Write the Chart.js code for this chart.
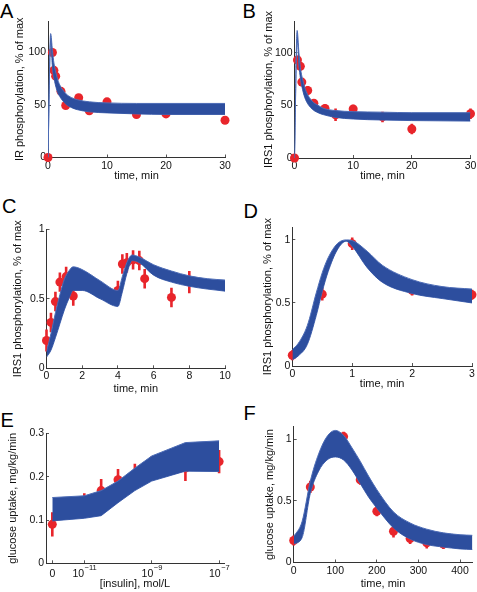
<!DOCTYPE html>
<html>
<head>
<meta charset="utf-8">
<script src="https://cdn.jsdelivr.net/npm/chart.js@4.4.1/dist/chart.umd.min.js"></script>
<style>
  html, body { margin: 0; padding: 0; background: #fff; }
  body { width: 477px; height: 592px; position: relative; overflow: hidden; }
  canvas { position: absolute; }
  .tag { position: absolute; font: 20px/1 "Liberation Sans", Arial, sans-serif; color: #000; }
</style>
</head>
<body>
<div class="tag" style="left:0px;top:1px">A</div>
<div class="tag" style="left:242.5px;top:1px">B</div>
<div class="tag" style="left:2px;top:196px">C</div>
<div class="tag" style="left:243.5px;top:201px">D</div>
<div class="tag" style="left:0.5px;top:410px">E</div>
<div class="tag" style="left:243.5px;top:403px">F</div>

<canvas id="chartA"></canvas>
<canvas id="chartB"></canvas>
<canvas id="chartC"></canvas>
<canvas id="chartD"></canvas>
<canvas id="chartE"></canvas>
<canvas id="chartF"></canvas>

<script>
// ---- A: IR phosphorylation, % of max ----
const timeA = [0, 0.75, 1, 1.3, 2.2, 3, 5.2, 7, 10, 15, 20, 30];
const irA = [0, 100, 83, 77.5, 63, 49.5, 57, 44.5, 53, 41, 41.5, 35.5];
const errA = [1, 3, 3, 3, 3, 3, 3, 2.5, 3, 2.5, 2.5, 3];
const simTimeA = [0, 0.45, 0.75, 1, 1.5, 2, 3, 4, 5, 7, 10, 15, 20, 30];
const simHighA = [0, 118, 102, 90, 77, 69, 61, 57, 55, 53, 52, 51.5, 51.5, 51.5];
const simLowA = [0, 110, 86, 76, 64, 58, 51, 47.5, 45.5, 43.5, 42.5, 41.5, 41, 41];

// ---- B: IRS1 phosphorylation, % of max ----
const timeB = [0, 0.5, 1, 1.25, 2.25, 3.3, 5.2, 7, 10, 15, 20, 30];
const irsB = [0, 93, 87, 72, 64, 52, 47, 41, 46.5, 39, 27.5, 42];
const errB = [1, 4, 4, 4, 4, 4, 4, 6, 4, 5, 5, 5];
const simTimeB = [0, 0.45, 0.75, 1, 1.5, 2, 3, 4, 5, 7, 10, 15, 20, 30];
const simHighB = [0, 121, 100, 86, 72, 63, 54, 50, 47, 45, 44, 43.5, 43, 43];
const simLowB = [0, 113, 88, 76, 62, 54, 46.5, 43, 41, 38.5, 37, 36, 35.5, 35];

// ---- C: IRS1, double stimulation ----
const timeC = [0, 0.25, 0.5, 0.75, 1.1, 1.5, 4, 4.25, 4.5, 4.85, 5.2, 5.5, 7, 8];
const irsC = [0.2, 0.33, 0.48, 0.62, 0.66, 0.52, 0.56, 0.75, 0.76, 0.78, 0.775, 0.645, 0.51, 0.62];
const errC = [0.08, 0.07, 0.07, 0.07, 0.07, 0.07, 0.07, 0.07, 0.07, 0.07, 0.07, 0.07, 0.07, 0.08];
const simTimeC = [0, 0.25, 0.5, 0.75, 1, 1.25, 1.5, 2, 3, 4, 4.25, 4.5, 4.8, 5.2, 6, 7, 8, 9, 10];
const simHighC = [0.12, 0.25, 0.40, 0.53, 0.64, 0.70, 0.73, 0.71, 0.63, 0.56, 0.66, 0.76, 0.815, 0.80, 0.745, 0.70, 0.665, 0.645, 0.635];
const simLowC = [0.08, 0.13, 0.22, 0.32, 0.42, 0.50, 0.56, 0.56, 0.50, 0.445, 0.55, 0.68, 0.775, 0.76, 0.67, 0.62, 0.59, 0.57, 0.555];

// ---- D: IRS1, short time course ----
const timeD = [0, 0.5, 1, 1.5, 2, 3];
const irsD = [0.085, 0.57, 0.97, 0.72, 0.6, 0.565];
const errD = [0.04, 0.05, 0.05, 0.05, 0.04, 0.04];
const simTimeD = [0, 0.1, 0.25, 0.4, 0.5, 0.6, 0.75, 0.9, 1.0, 1.25, 1.5, 2, 2.5, 3];
const simHighD = [0.13, 0.18, 0.32, 0.58, 0.74, 0.86, 0.97, 1.0, 0.995, 0.91, 0.80, 0.685, 0.63, 0.61];
const simLowD = [0.05, 0.08, 0.17, 0.4, 0.59, 0.75, 0.92, 0.99, 0.95, 0.78, 0.665, 0.575, 0.535, 0.50];

// ---- E: glucose uptake vs insulin (log10 mol/L, "0" drawn at -11.95) ----
const doseE = [-11.95, -11, -10.5, -10, -9.5, -9, -8, -7];
const uptakeE = [0.09, 0.14, 0.168, 0.193, 0.205, 0.225, 0.22, 0.235];
const errE = [0.028, 0.022, 0.027, 0.025, 0.025, 0.022, 0.03, 0.027];
const simHighE = [0.152, 0.156, 0.168, 0.19, 0.22, 0.248, 0.279, 0.283];
const simLowE = [0.098, 0.104, 0.11, 0.14, 0.168, 0.19, 0.213, 0.212];
const tickE = [-11.95, -11, -9, -7];
const tickBaseE = ["0", "10", "10", "10"];
const tickExpE = ["", "\u221211", "\u22129", "\u22127"];

// ---- F: glucose uptake time course ----
const timeF = [0, 40, 120, 160, 200, 240, 280, 320, 360, 400];
const uptakeF = [0.178, 0.612, 1.02, 0.67, 0.415, 0.253, 0.194, 0.159, 0.15, 0.154];
const errF = [0.04, 0.05, 0.04, 0.04, 0.04, 0.05, 0.045, 0.045, 0.04, 0.045];
const simTimeF = [0, 20, 40, 60, 80, 100, 120, 140, 160, 180, 200, 240, 280, 320, 360, 400, 430];
const simHighF = [0.21, 0.33, 0.66, 0.88, 1.02, 1.07, 1.03, 0.93, 0.82, 0.70, 0.59, 0.41, 0.32, 0.27, 0.24, 0.225, 0.22];
const simLowF = [0.15, 0.2, 0.56, 0.74, 0.83, 0.855, 0.83, 0.75, 0.64, 0.53, 0.44, 0.28, 0.19, 0.145, 0.125, 0.11, 0.105];

const BLUE = "#2d4e9e";
const BLUE_EDGE = "#4d6cb6";
const RED = "#e8252b";
const FONT = '"Liberation Sans", Arial, Helvetica, sans-serif';

Chart.defaults.font.family = FONT;
Chart.defaults.color = "#111";

function pts(xs, ys) {
  return xs.map((x, i) => ({ x: x, y: ys[i] }));
}

function errBars(xs, ys, es) {
  const out = [];
  xs.forEach((x, i) => {
    out.push({ x: x, y: ys[i] - es[i] });
    out.push({ x: x, y: ys[i] + es[i] });
    out.push({ x: x, y: null });
  });
  return out;
}

// box: canvas placement; area: plot area in page pixels
function panel(id, box, area, d) {
  const cv = document.getElementById(id);
  cv.width = box.w; cv.height = box.h;
  cv.style.left = box.l + "px"; cv.style.top = box.t + "px";

  const lineMode = d.curved ? { cubicInterpolationMode: "monotone" } : { tension: 0 };
  const datasets = [
    Object.assign({
      data: pts(d.simX, d.simHigh), borderColor: BLUE_EDGE, borderWidth: 1,
      backgroundColor: BLUE, fill: "+1", pointRadius: 0, order: 1
    }, lineMode),
    Object.assign({
      data: pts(d.simX, d.simLow), borderColor: BLUE_EDGE, borderWidth: 1,
      fill: false, pointRadius: 0, order: 1
    }, lineMode),
    {
      data: errBars(d.x, d.y, d.err), borderColor: RED, borderWidth: 2.6,
      pointRadius: 0, spanGaps: false, fill: false, tension: 0, clip: false, order: 3
    },
    {
      data: pts(d.x, d.y), showLine: false, pointRadius: 4.5, pointBorderWidth: 0,
      pointBackgroundColor: RED, pointBorderColor: RED, clip: false, order: 2
    }
  ];

  const yW = area.l - box.l;
  const xH = box.t + box.h - area.b;
  const tickFont = { size: 10.5 };
  const titleFont = { size: 11 };

  return new Chart(cv, {
    type: "line",
    data: { datasets: datasets },
    options: {
      responsive: false,
      animation: false,
      devicePixelRatio: 1,
      layout: { padding: { left: 0, top: area.t - box.t, right: box.l + box.w - area.r, bottom: 0 } },
      plugins: { legend: { display: false }, tooltip: { enabled: false } },
      scales: {
        x: {
          type: "linear", position: "bottom", min: d.xMin, max: d.xMax,
          afterBuildTicks: s => { s.ticks = d.xTicks.map(v => ({ value: v })); },
          afterFit: s => { s.height = xH; s.paddingLeft = 0; s.paddingRight = 0; },
          ticks: {
            display: !d.customX, autoSkip: false, maxRotation: 0, padding: 5,
            font: tickFont, callback: v => String(v)
          },
          grid: { drawOnChartArea: false, tickLength: -3, color: "#555" },
          border: { color: "#333", width: 1 },
          title: {
            display: true, text: d.xTitle, font: titleFont,
            padding: { top: 0, bottom: box.t + box.h - area.xTitleY - 6.6 }
          }
        },
        y: {
          type: "linear", position: "left", min: d.yMin, max: d.yMax,
          afterBuildTicks: s => { s.ticks = d.yTicks.map(v => ({ value: v })); },
          afterFit: s => { s.width = yW; s.paddingTop = 0; s.paddingBottom = 0; },
          ticks: { autoSkip: false, padding: 5, font: tickFont, callback: v => String(v) },
          grid: { drawOnChartArea: false, tickLength: -3, color: "#555" },
          border: { color: "#333", width: 1 },
          title: {
            display: true, text: d.yTitle, font: titleFont,
            padding: { top: area.yTitleX - box.l - 6.6, bottom: 0 }
          }
        }
      }
    },
    plugins: d.customX ? [{
      id: "logLabels",
      afterDraw(chart) {
        const xs = chart.scales.x;
        const ctx = chart.ctx;
        ctx.save();
        ctx.fillStyle = "#111";
        ctx.textBaseline = "middle";
        ctx.textAlign = "left";
        tickE.forEach((v, i) => {
          const px = xs.getPixelForValue(v);
          ctx.font = "10.5px " + FONT;
          const wb = ctx.measureText(tickBaseE[i]).width;
          ctx.font = "7.5px " + FONT;
          const we = tickExpE[i] ? ctx.measureText(tickExpE[i]).width : 0;
          const x0 = px - (wb + we) / 2;
          ctx.font = "10.5px " + FONT;
          ctx.fillText(tickBaseE[i], x0, xs.top + 11);
          if (tickExpE[i]) {
            ctx.font = "7.5px " + FONT;
            ctx.fillText(tickExpE[i], x0 + wb + 0.5, xs.top + 5);
          }
        });
        ctx.restore();
      }
    }] : []
  });
}

const timeTitle = "time, min";

panel("chartA", { l: 0, t: 0, w: 238, h: 192 },
  { l: 48, r: 225, t: 21, b: 157.5, yTitleX: 20, xTitleY: 176 },
  { x: timeA, y: irA, err: errA, simX: simTimeA, simHigh: simHighA, simLow: simLowA, curved: true,
    xMin: 0, xMax: 30, xTicks: [0, 10, 20, 30], yMin: 0, yMax: 130, yTicks: [0, 50, 100],
    xTitle: timeTitle, yTitle: "IR phosphorylation, % of max" });

panel("chartB", { l: 237, t: 0, w: 240, h: 192 },
  { l: 294.5, r: 470.5, t: 21, b: 158, yTitleX: 268.7, xTitleY: 176 },
  { x: timeB, y: irsB, err: errB, simX: simTimeB, simHigh: simHighB, simLow: simLowB, curved: true,
    xMin: 0, xMax: 30, xTicks: [0, 10, 20, 30], yMin: 0, yMax: 130, yTicks: [0, 50, 100],
    xTitle: timeTitle, yTitle: "IRS1 phosphorylation, % of max" });

panel("chartC", { l: 0, t: 198, w: 238, h: 200 },
  { l: 46.5, r: 225, t: 229.3, b: 368.3, yTitleX: 18, xTitleY: 389 },
  { x: timeC, y: irsC, err: errC, simX: simTimeC, simHigh: simHighC, simLow: simLowC, curved: true,
    xMin: 0, xMax: 10, xTicks: [0, 2, 4, 6, 8, 10], yMin: 0, yMax: 1, yTicks: [0, 0.5, 1],
    xTitle: timeTitle, yTitle: "IRS1 phosphorylation, % of max" });

panel("chartD", { l: 237, t: 198, w: 240, h: 200 },
  { l: 292.3, r: 472, t: 227.3, b: 366, yTitleX: 268, xTitleY: 384 },
  { x: timeD, y: irsD, err: errD, simX: simTimeD, simHigh: simHighD, simLow: simLowD, curved: true,
    xMin: 0, xMax: 3, xTicks: [0, 1, 2, 3], yMin: 0, yMax: 1.1, yTicks: [0, 0.5, 1],
    xTitle: timeTitle, yTitle: "IRS1 phosphorylation, % of max" });

panel("chartE", { l: 0, t: 400, w: 238, h: 192 },
  { l: 46, r: 224, t: 433.5, b: 563.3, yTitleX: 13.3, xTitleY: 584 },
  { x: doseE, y: uptakeE, err: errE, simX: doseE, simHigh: simHighE, simLow: simLowE, curved: false,
    xMin: -12.137, xMax: -6.855, xTicks: tickE, yMin: 0, yMax: 0.3, yTicks: [0, 0.1, 0.2, 0.3],
    customX: true, xTitle: "[insulin], mol/L", yTitle: "glucose uptake, mg/kg/min" });

panel("chartF", { l: 237, t: 400, w: 240, h: 192 },
  { l: 293.7, r: 476, t: 426.7, b: 562.5, yTitleX: 270.3, xTitleY: 583.5 },
  { x: timeF, y: uptakeF, err: errF, simX: simTimeF, simHigh: simHighF, simLow: simLowF, curved: true,
    xMin: 0, xMax: 430, xTicks: [0, 100, 200, 300, 400], yMin: 0, yMax: 1.1, yTicks: [0, 0.5, 1],
    xTitle: timeTitle, yTitle: "glucose uptake, mg/kg/min" });
</script>
</body>
</html>
